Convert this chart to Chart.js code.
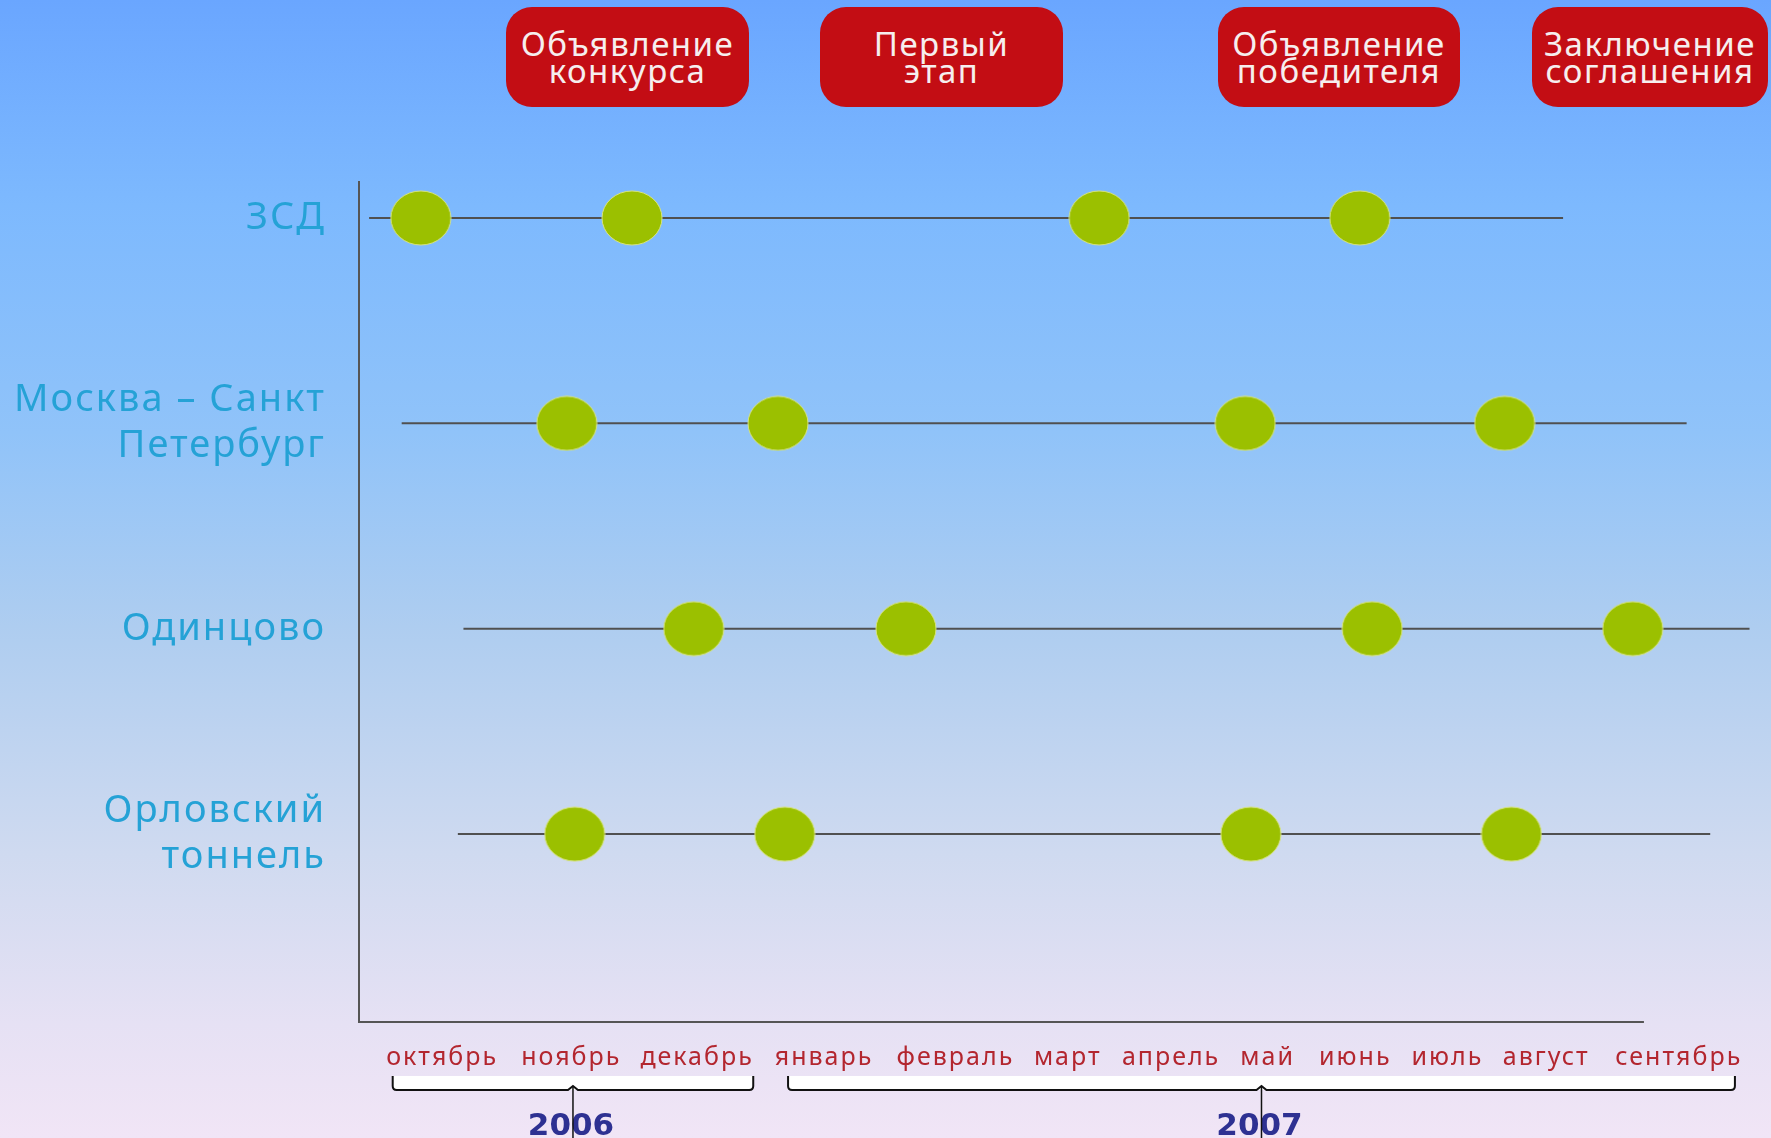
<!DOCTYPE html>
<html lang="ru">
<head>
<meta charset="utf-8">
<title>Сроки проектов</title>
<script src="https://cdn.jsdelivr.net/npm/chart.js@4.4.1/dist/chart.umd.min.js"></script>
<style>
  html, body { margin: 0; padding: 0; }
  body {
    width: 1771px; height: 1138px; overflow: hidden; position: relative;
    background: linear-gradient(to bottom, #6aa6ff 0%, #7db9fe 18%, #90c3f9 38%, #aecdf0 55%, #cfdaf0 75%, #e6e1f4 90%, #f1e5f6 100%);
    font-family: "Noto Sans", sans-serif;
  }
  #wrap { position: absolute; left: 0; top: 0; width: 1771px; height: 1138px; }
  .phase {
    position: absolute; top: 7px; height: 100px;
    background: #c30d14; border-radius: 26px; color: #f6eeee;
    display: flex; align-items: center; justify-content: center; text-align: center;
    font-size: 33px; line-height: 27px; letter-spacing: 1.5px; white-space: pre;
  }
</style>
</head>
<body>
<div id="wrap"><canvas id="timeline"></canvas></div>
<script>
// months on the axis, oct 2006 .. sep 2007
const months = ['октябрь', 'ноябрь', 'декабрь', 'январь', 'февраль', 'март', 'апрель', 'май', 'июнь', 'июль', 'август', 'сентябрь'];
// where each month label sits (months since 1 oct 2006)
const monthTickPos = [0.49, 1.64, 2.76, 3.89, 5.06, 6.06, 6.98, 7.84, 8.62, 9.44, 10.32, 11.50];

const projects = [['ЗСД'], ['Москва – Санкт', 'Петербург'], ['Одинцово'], ['Орловский', 'тоннель']];
const phases = ['Объявление\nконкурса', 'Первый\nэтап', 'Объявление\nпобедителя', 'Заключение\nсоглашения'];

// event dates for the 4 phases, months since 1 oct 2006
const zsdEvents = [0.30, 2.18, 6.34, 8.66];
const mskEvents = [1.60, 3.48, 7.64, 9.95];
const odnEvents = [2.73, 4.62, 8.77, 11.09];
const orlEvents = [1.67, 3.54, 7.69, 10.01];

// start / end of each project's time line
const zsdSpan = [-0.16, 10.47];
const mskSpan = [0.13, 11.57];
const odnSpan = [0.68, 12.13];
const orlSpan = [0.63, 11.78];

// year brackets under the month labels
const years = ['2006', '2007'];
const yearFrom = [0.05, 3.57];
const yearTo = [3.26, 12.00];

const xAxisEnd = 11.19;

// red phase boxes at the top
const boxLayout = [[506, 243], [820, 243], [1218, 242], [1532, 236]];
phases.forEach((p, i) => {
    const d = document.createElement('div');
    d.className = 'phase';
    d.style.left = boxLayout[i][0] + 'px';
    d.style.width = boxLayout[i][1] + 'px';
    d.textContent = p;
    document.body.appendChild(d);
});

// green oval marker
const dot = document.createElement('canvas');
dot.width = 62;
dot.height = 56;
const g = dot.getContext('2d');
g.beginPath();
g.ellipse(31, 28, 30, 27, 0, 0, Math.PI * 2);
g.fillStyle = '#9bc000';
g.fill();
g.strokeStyle = '#d6e37c';
g.lineWidth = 1;
g.stroke();

const allEvents = [zsdEvents, mskEvents, odnEvents, orlEvents];
const allSpans = [zsdSpan, mskSpan, odnSpan, orlSpan];

const datasets = [];
allEvents.forEach((ev, i) => {
    datasets.push({
        label: projects[i].join(' ') + ' этапы',
        data: ev.map(v => ({ x: v, y: i })),
        pointStyle: dot,
        pointRadius: 28,
        pointHoverRadius: 28,
        showLine: false,
        order: 0
    });
});
allSpans.forEach((sp, i) => {
    datasets.push({
        label: projects[i].join(' '),
        data: sp.map(v => ({ x: v, y: i })),
        showLine: true,
        borderColor: '#505050',
        borderWidth: 2,
        pointRadius: 0,
        clip: false,
        order: 1
    });
});

const spacing = {
    id: 'spacing',
    beforeDraw(chart) {
        chart.ctx.letterSpacing = '2px';
    }
};

const axisAndYears = {
    id: 'axisAndYears',
    afterDraw(chart) {
        const ctx = chart.ctx;
        const x = chart.scales.x;
        const area = chart.chartArea;
        ctx.save();
        ctx.letterSpacing = '0px';

        // x axis line
        ctx.strokeStyle = '#555';
        ctx.lineWidth = 2;
        ctx.beginPath();
        ctx.moveTo(area.left, area.bottom);
        ctx.lineTo(x.getPixelForValue(xAxisEnd), area.bottom);
        ctx.stroke();

        const top = area.bottom + 54;
        const bot = area.bottom + 68;
        years.forEach((yr, i) => {
            const l = x.getPixelForValue(yearFrom[i]);
            const r = x.getPixelForValue(yearTo[i]);
            const c = (l + r) / 2;

            ctx.fillStyle = '#ffffff';
            ctx.fillRect(l, top, r - l, bot - top);

            ctx.strokeStyle = '#111';
            ctx.lineWidth = 2;
            ctx.beginPath();
            ctx.moveTo(l, top);
            ctx.lineTo(l, bot - 4);
            ctx.quadraticCurveTo(l, bot, l + 4, bot);
            ctx.lineTo(c - 5, bot);
            ctx.lineTo(c, bot - 4);
            ctx.lineTo(c + 5, bot);
            ctx.lineTo(r - 4, bot);
            ctx.quadraticCurveTo(r, bot, r, bot - 4);
            ctx.lineTo(r, top);
            ctx.stroke();

            ctx.fillStyle = '#2e3192';
            ctx.font = 'bold 31px "DejaVu Sans", sans-serif';
            ctx.textAlign = 'center';
            ctx.textBaseline = 'alphabetic';
            ctx.fillText(yr, c - 2, bot + 45);

            ctx.lineWidth = 1.5;
            ctx.beginPath();
            ctx.moveTo(c, bot - 4);
            ctx.lineTo(c, chart.height);
            ctx.stroke();
        });
        ctx.restore();
    }
};

new Chart(document.getElementById('timeline'), {
    type: 'scatter',
    data: { datasets: datasets },
    options: {
        responsive: true,
        maintainAspectRatio: false,
        animation: false,
        events: [],
        layout: { autoPadding: false, padding: { top: 182, right: 8, left: 0, bottom: 0 } },
        plugins: {
            legend: { display: false },
            tooltip: { enabled: false }
        },
        scales: {
            x: {
                type: 'linear',
                min: -0.25,
                max: 12.25,
                afterBuildTicks: s => { s.ticks = monthTickPos.map(v => ({ value: v })); },
                afterFit: s => { s.height = 116; s.paddingLeft = 0; s.paddingRight = 0; },
                grid: { display: false },
                border: { display: false },
                ticks: {
                    padding: 13,
                    autoSkip: false,
                    maxRotation: 0,
                    color: '#b3262f',
                    font: { family: 'Noto Sans', size: 25 },
                    callback: (v, i) => months[i]
                }
            },
            y: {
                type: 'linear',
                reverse: true,
                min: -0.175,
                max: 3.915,
                afterBuildTicks: s => { s.ticks = projects.map((p, i) => ({ value: i })); },
                afterFit: s => { s.width = 359; s.paddingTop = 0; s.paddingBottom = 0; },
                grid: { display: false },
                border: { display: true, color: '#555', width: 2 },
                ticks: {
                    padding: 25,
                    color: '#25a2d6',
                    font: { family: 'Noto Sans', size: 38, lineHeight: 1.2 },
                    callback: v => projects[v]
                }
            }
        }
    },
    plugins: [spacing, axisAndYears]
});
</script>
</body>
</html>
